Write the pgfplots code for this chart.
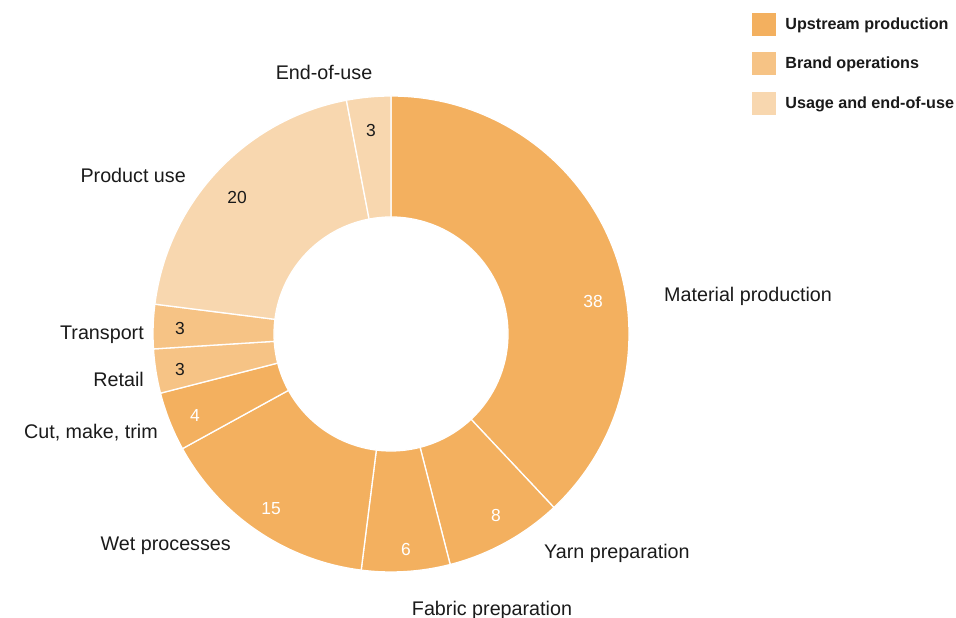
\documentclass[border=0pt]{standalone}
\usepackage{pgfplots}
\usepackage{pgfplotstable}
\pgfplotsset{compat=1.18}
\usepackage{fontspec}
\setmainfont{Liberation Sans}
\definecolor{upc}{HTML}{F3B05F}
\definecolor{brc}{HTML}{F6C385}
\definecolor{usc}{HTML}{F8D7AF}
\definecolor{txt}{HTML}{1A1A1A}

% sectors, clockwise from 12 o'clock
\pgfplotstableread[col sep=semicolon]{
label;value;col
Material production;38;upc
Yarn preparation;8;upc
Fabric preparation;6;upc
Wet processes;15;upc
Cut, make, trim;4;upc
Retail;3;brc
Transport;3;brc
Product use;20;usc
End-of-use;3;usc
}\sectors

% value labels (pixel positions)
\pgfplotstableread[col sep=semicolon]{
x;y;val
593;302;38
496;516;8
406;550;6
271;509;15
195;416;4
}\valuesW
\pgfplotstableread[col sep=semicolon]{
x;y;val
180;370;3
180;329;3
237;198;20
371;131;3
}\valuesB

% category labels (pixel positions)
\pgfplotstableread[col sep=semicolon]{
x;y;txt
664;296;Material production
544;553;Yarn preparation
}\outerW
\pgfplotstableread[col sep=semicolon]{
x;y;txt
492;610;Fabric preparation
324;72;End-of-use
}\outerC
\pgfplotstableread[col sep=semicolon]{
x;y;txt
231;546;Wet processes
158;433;Cut, make, trim
144;379;Retail
144;335;Transport
186;175;Product use
}\outerE

\pgfplotsset{
  lbl/.style={draw=none, mark=none, forget plot,
    point meta=explicit symbolic, nodes near coords,
    every node near coord/.style={anchor=#1, inner sep=0pt, text=txt,
      font=\fontsize{19.8}{22}\selectfont}},
  val/.style={draw=none, mark=none, forget plot,
    point meta=explicit symbolic, nodes near coords,
    every node near coord/.style={anchor=center, inner sep=0pt, text=#1,
      font=\fontsize{17.5}{20}\selectfont}},
}

\begin{document}
\begin{tikzpicture}
\begin{axis}[
  name=ax,
  x=1bp, y=1bp,
  xmin=0, xmax=956, ymin=-618, ymax=0,
  hide axis, clip=false,
  legend style={at={(axis cs:752,-13)}, anchor=north west, draw=none, fill=none,
    font=\fontsize{16.2}{19}\selectfont\bfseries, text=txt,
    row sep=17bp, inner sep=0pt, outer sep=0pt},
  legend cell align=left,
  legend image code/.code={\fill[#1] (0bp,-11bp) rectangle (23bp,11bp);},
  /tikz/every even column/.append style={column sep=0bp},
]
\pgfplotstablegetrowsof{\sectors}
\pgfmathtruncatemacro\N{\pgfplotsretval-1}
\def\cum{0}
\pgfplotsforeachungrouped \i in {0,...,\N}{%
  \pgfplotstablegetelem{\i}{value}\of\sectors \let\v\pgfplotsretval
  \pgfplotstablegetelem{\i}{col}\of\sectors \let\c\pgfplotsretval
  \pgfmathsetmacro\aone{90-3.6*\cum}%
  \pgfmathsetmacro\cum{\cum+\v}%
  \pgfmathsetmacro\atwo{90-3.6*\cum}%
  \edef\temp{\noexpand\filldraw[fill=\c, draw=white, line width=1.3bp, line join=round,
     shift={(axis cs:391,-334)}]
     (\aone:238bp) arc[start angle=\aone, end angle=\atwo, radius=238bp]
     -- (\atwo:117bp) arc[start angle=\atwo, end angle=\aone, radius=117bp] -- cycle;}%
  \temp
}

\addlegendimage{upc}\addlegendentry{\hspace{8bp}Upstream production}
\addlegendimage{brc}\addlegendentry{\hspace{8bp}Brand operations}
\addlegendimage{usc}\addlegendentry{\hspace{8bp}Usage and end-of-use}

\addplot[val=white] table[x=x, y expr=-\thisrow{y}, meta=val] {\valuesW};
\addplot[val=txt] table[x=x, y expr=-\thisrow{y}, meta=val] {\valuesB};
\addplot[lbl=west] table[x=x, y expr=-\thisrow{y}, meta=txt] {\outerW};
\addplot[lbl=center] table[x=x, y expr=-\thisrow{y}, meta=txt] {\outerC};
\addplot[lbl=east] table[x=x, y expr=-\thisrow{y}, meta=txt] {\outerE};
\end{axis}
\pgfresetboundingbox
\path (ax.south west) rectangle (ax.north east);
\end{tikzpicture}
\end{document}
